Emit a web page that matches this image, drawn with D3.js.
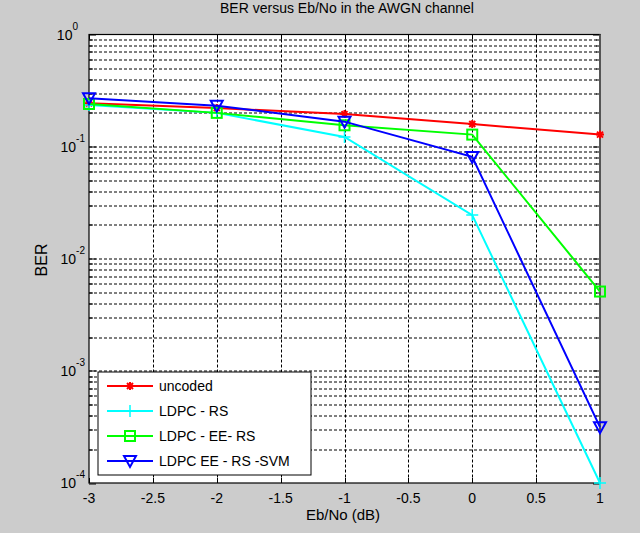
<!DOCTYPE html>
<html>
<head>
<meta charset="utf-8">
<script src="https://cdn.jsdelivr.net/npm/d3@7"></script>
<style>
  body { margin: 0; background: #cccccc; }
  svg { display: block; font-family: "Liberation Sans", Arial, sans-serif; }
</style>
</head>
<body>
<div id="chart"></div>
<script>
// Data
var ebno = [-3, -2, -1, 0, 1];
var uncoded = [0.244, 0.221, 0.195, 0.159, 0.128];
var ldpcRS = [0.235, 0.2, 0.122, 0.0245, 0.0001];
var ldpcEERS = [0.24, 0.2, 0.155, 0.128, 0.0051];
var ldpcEERSSVM = [0.27, 0.232, 0.167, 0.081, 0.000315];
var xTicks = [-3, -2.5, -2, -1.5, -1, -0.5, 0, 0.5, 1];
var yDecades = [1e-4, 1e-3, 1e-2, 1e-1, 1];

var series = [
  { name: "uncoded", values: uncoded, color: "#ff0000", marker: "star" },
  { name: "LDPC - RS", values: ldpcRS, color: "#00ffff", marker: "plus" },
  { name: "LDPC - EE- RS", values: ldpcEERS, color: "#00ff00", marker: "square" },
  { name: "LDPC EE - RS -SVM", values: ldpcEERSSVM, color: "#0000ff", marker: "tri" }
];

var W = 640, H = 533;
var margin = { top: 34.5, left: 89 };
var width = 600 - margin.left;
var height = 483 - margin.top;

var svg = d3.select("#chart").append("svg")
  .attr("width", W).attr("height", H);

svg.append("rect").attr("width", W).attr("height", H).attr("fill", "#cccccc");

var g = svg.append("g")
  .attr("transform", "translate(" + margin.left + "," + margin.top + ")");

var x = d3.scaleLinear().domain([-3, 1]).range([0, width]);
var y = d3.scaleLog().domain([1e-4, 1]).range([height, 0]);

g.append("rect").attr("width", width).attr("height", height).attr("fill", "#ffffff");

// minor + major log grid
var yGrid = [];
yDecades.slice(0, 4).forEach(function(d) {
  for (var k = 1; k <= 9; k++) yGrid.push(d * k);
});
yGrid.push(1);

g.selectAll(".hgrid").data(yGrid.filter(function(v) { return v > 1e-4 && v < 1; }))
  .enter().append("line")
  .attr("x1", 0).attr("x2", width)
  .attr("y1", function(d) { return Math.round(y(d)) + 0.5; })
  .attr("y2", function(d) { return Math.round(y(d)) + 0.5; })
  .attr("stroke", "#000").attr("stroke-width", 1)
  .attr("stroke-dasharray", "3,2");

g.selectAll(".vgrid").data(xTicks.slice(1, -1))
  .enter().append("line")
  .attr("x1", function(d) { return Math.round(x(d)) + 0.5; })
  .attr("x2", function(d) { return Math.round(x(d)) + 0.5; })
  .attr("y1", 0).attr("y2", height)
  .attr("stroke", "#000").attr("stroke-width", 1)
  .attr("stroke-dasharray", "3,2");

// tick marks (inside)
g.selectAll(".xt").data(xTicks).enter().append("path")
  .attr("d", function(d) {
    var px = Math.round(x(d)) + 0.5;
    return "M" + px + "," + height + "v-5M" + px + ",0v5";
  })
  .attr("stroke", "#000");

g.selectAll(".yt").data(yGrid).enter().append("path")
  .attr("d", function(d) {
    var py = Math.round(y(d)) + 0.5;
    var len = yDecades.indexOf(d) >= 0 ? 7 : 4;
    return "M0," + py + "h" + len + "M" + width + "," + py + "h-" + len;
  })
  .attr("stroke", "#000");

// axis box
g.append("rect").attr("width", width).attr("height", height)
  .attr("fill", "none").attr("stroke", "#000").attr("stroke-width", 1.2);
g.append("line").attr("x1", width).attr("x2", width).attr("y1", 0).attr("y2", height + 1)
  .attr("stroke", "#555").attr("stroke-width", 2);

// x tick labels
g.selectAll(".xl").data(xTicks).enter().append("text")
  .attr("x", function(d) { return x(d); })
  .attr("y", height + 20)
  .attr("text-anchor", "middle")
  .style("font-size", "14px")
  .text(function(d) { return String(d); });

// y tick labels 10^n
var yl = g.selectAll(".yl").data(yDecades).enter().append("text")
  .attr("x", -15).attr("y", function(d) { return y(d) + 5; })
  .attr("text-anchor", "end")
  .style("font-size", "14px");
yl.append("tspan").text("10");
yl.append("tspan").attr("dy", -10).style("font-size", "10px")
  .text(function(d) { return String(Math.round(Math.log10(d))); });
// shift so that "10" ends at the same place regardless of exponent width
yl.attr("x", function(d) {
  var e = Math.round(Math.log10(d));
  return e === 0 ? -11 : -4;
});

// lines and markers
var line = d3.line()
  .x(function(d, i) { return x(ebno[i]); })
  .y(function(d) { return y(d); });

function drawMarker(sel, type, color) {
  if (type === "star") {
    sel.append("path").attr("d", "M-4,0H4M0,-4V4M-3,-3L3,3M-3,3L3,-3")
      .attr("stroke", color).attr("stroke-width", 2).attr("fill", "none");
  } else if (type === "plus") {
    sel.append("path").attr("d", "M-6,0H6M0,-6V6")
      .attr("stroke", color).attr("stroke-width", 1.5).attr("fill", "none");
  } else if (type === "square") {
    sel.append("rect").attr("x", -5).attr("y", -5).attr("width", 10).attr("height", 10)
      .attr("stroke", color).attr("stroke-width", 2).attr("fill", "none");
  } else if (type === "tri") {
    sel.append("path").attr("d", "M-6,-5H6L0,6Z")
      .attr("stroke", color).attr("stroke-width", 2).attr("fill", "none");
  }
}

series.forEach(function(s) {
  g.append("path").datum(s.values)
    .attr("d", line)
    .attr("fill", "none")
    .attr("stroke", s.color)
    .attr("stroke-width", 2);
  s.values.forEach(function(v, i) {
    var m = g.append("g").attr("transform", "translate(" + x(ebno[i]) + "," + y(v) + ")");
    drawMarker(m, s.marker, s.color);
  });
});

// legend
var lg = svg.append("g").attr("transform", "translate(98,372)");
lg.append("rect").attr("width", 213).attr("height", 103)
  .attr("fill", "#fff").attr("stroke", "#000").attr("stroke-width", 1);
series.forEach(function(s, i) {
  var ly = 14 + i * 25;
  lg.append("line").attr("x1", 9).attr("x2", 55).attr("y1", ly).attr("y2", ly)
    .attr("stroke", s.color).attr("stroke-width", 2);
  var m = lg.append("g").attr("transform", "translate(32," + ly + ")");
  drawMarker(m, s.marker, s.color);
  lg.append("text").attr("x", 61).attr("y", ly + 5)
    .style("font-size", "14px").attr("fill", "#000")
    .text(s.name);
});

// title and axis labels
svg.append("text").attr("x", 347).attr("y", 13)
  .attr("text-anchor", "middle").style("font-size", "14px")
  .text("BER versus Eb/No in the AWGN channel");
svg.append("text").attr("x", 343).attr("y", 520)
  .attr("text-anchor", "middle").style("font-size", "15px")
  .text("Eb/No (dB)");
svg.append("text")
  .attr("transform", "translate(46.5,260) rotate(-90)")
  .attr("text-anchor", "middle").style("font-size", "16px")
  .text("BER");
</script>
</body>
</html>
